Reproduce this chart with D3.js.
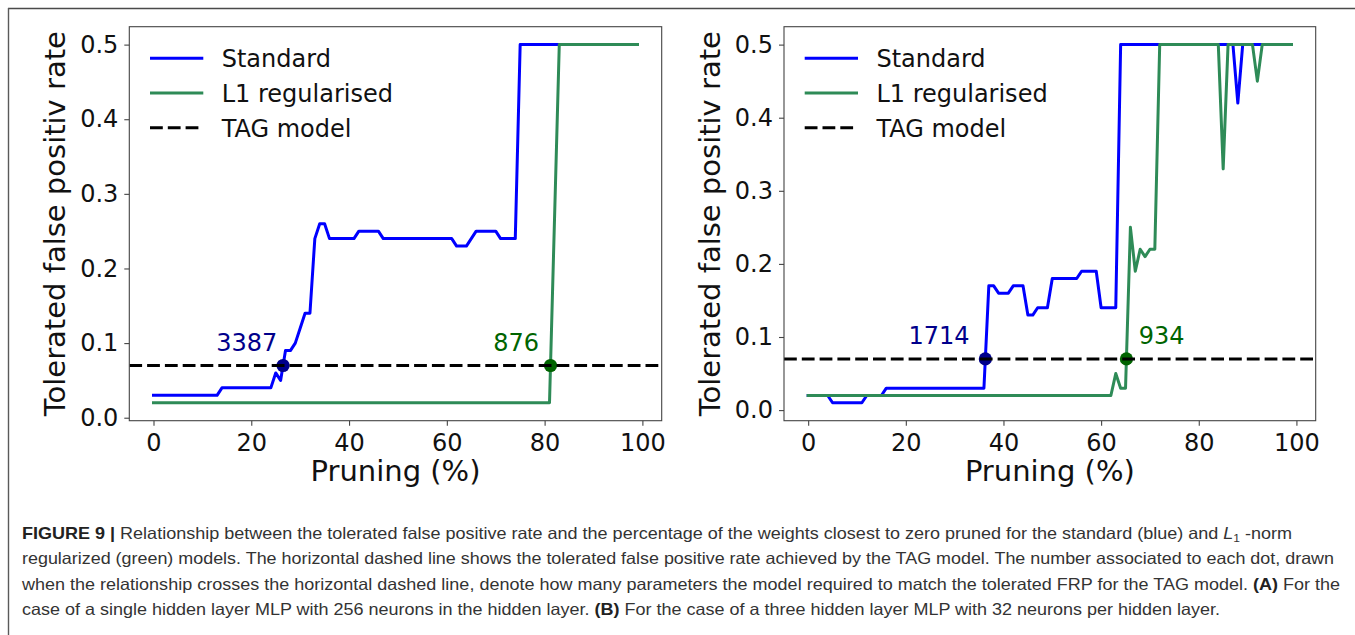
<!DOCTYPE html>
<html>
<head>
<meta charset="utf-8">
<script src="https://cdn.jsdelivr.net/npm/d3@7"></script>
<style>
  html, body { margin: 0; padding: 0; background: #fff; }
  svg { display: block; }
</style>
</head>
<body>
<svg id="fig" width="1355" height="635"></svg>
<script>
// ---- data -------------------------------------------------------------
// Pruning percentage shared by all series
const pruning = [
  0, 1, 2, 3, 4, 5, 6, 7, 8, 9,
  10, 11, 12, 13, 14, 15, 16, 17, 18, 19,
  20, 21, 22, 23, 24, 25, 26, 27, 28, 29,
  30, 31, 32, 33, 34, 35, 36, 37, 38, 39,
  40, 41, 42, 43, 44, 45, 46, 47, 48, 49,
  50, 51, 52, 53, 54, 55, 56, 57, 58, 59,
  60, 61, 62, 63, 64, 65, 66, 67, 68, 69,
  70, 71, 72, 73, 74, 75, 76, 77, 78, 79,
  80, 81, 82, 83, 84, 85, 86, 87, 88, 89,
  90, 91, 92, 93, 94, 95, 96, 97, 98, 99
];

// (A) single hidden layer MLP, 256 neurons
const standardA = [
  0.03, 0.03, 0.03, 0.03, 0.03, 0.03, 0.03, 0.03, 0.03, 0.03,
  0.03, 0.03, 0.03, 0.03, 0.04, 0.04, 0.04, 0.04, 0.04, 0.04,
  0.04, 0.04, 0.04, 0.04, 0.04, 0.06, 0.05, 0.09, 0.09, 0.10,
  0.12, 0.14, 0.14, 0.24, 0.26, 0.26, 0.24, 0.24, 0.24, 0.24,
  0.24, 0.24, 0.25, 0.25, 0.25, 0.25, 0.25, 0.24, 0.24, 0.24,
  0.24, 0.24, 0.24, 0.24, 0.24, 0.24, 0.24, 0.24, 0.24, 0.24,
  0.24, 0.24, 0.23, 0.23, 0.23, 0.24, 0.25, 0.25, 0.25, 0.25,
  0.25, 0.24, 0.24, 0.24, 0.24, 0.50, 0.50, 0.50, 0.50, 0.50,
  0.50, 0.50, 0.50, 0.50, 0.50, 0.50, 0.50, 0.50, 0.50, 0.50,
  0.50, 0.50, 0.50, 0.50, 0.50, 0.50, 0.50, 0.50, 0.50, 0.50
];
const l1A = [
  0.02, 0.02, 0.02, 0.02, 0.02, 0.02, 0.02, 0.02, 0.02, 0.02,
  0.02, 0.02, 0.02, 0.02, 0.02, 0.02, 0.02, 0.02, 0.02, 0.02,
  0.02, 0.02, 0.02, 0.02, 0.02, 0.02, 0.02, 0.02, 0.02, 0.02,
  0.02, 0.02, 0.02, 0.02, 0.02, 0.02, 0.02, 0.02, 0.02, 0.02,
  0.02, 0.02, 0.02, 0.02, 0.02, 0.02, 0.02, 0.02, 0.02, 0.02,
  0.02, 0.02, 0.02, 0.02, 0.02, 0.02, 0.02, 0.02, 0.02, 0.02,
  0.02, 0.02, 0.02, 0.02, 0.02, 0.02, 0.02, 0.02, 0.02, 0.02,
  0.02, 0.02, 0.02, 0.02, 0.02, 0.02, 0.02, 0.02, 0.02, 0.02,
  0.02, 0.02, 0.26, 0.50, 0.50, 0.50, 0.50, 0.50, 0.50, 0.50,
  0.50, 0.50, 0.50, 0.50, 0.50, 0.50, 0.50, 0.50, 0.50, 0.50
];

// (B) three hidden layer MLP, 32 neurons per layer
const standardB = [
  0.02, 0.02, 0.02, 0.02, 0.02, 0.01, 0.01, 0.01, 0.01, 0.01,
  0.01, 0.01, 0.02, 0.02, 0.02, 0.02, 0.03, 0.03, 0.03, 0.03,
  0.03, 0.03, 0.03, 0.03, 0.03, 0.03, 0.03, 0.03, 0.03, 0.03,
  0.03, 0.03, 0.03, 0.03, 0.03, 0.03, 0.03, 0.17, 0.17, 0.16,
  0.16, 0.16, 0.17, 0.17, 0.17, 0.13, 0.13, 0.14, 0.14, 0.14,
  0.18, 0.18, 0.18, 0.18, 0.18, 0.18, 0.19, 0.19, 0.19, 0.19,
  0.14, 0.14, 0.14, 0.14, 0.50, 0.50, 0.50, 0.50, 0.50, 0.50,
  0.50, 0.50, 0.50, 0.50, 0.50, 0.50, 0.50, 0.50, 0.50, 0.50,
  0.50, 0.50, 0.50, 0.50, 0.50, 0.50, 0.50, 0.50, 0.42, 0.50,
  0.50, 0.50, 0.50, 0.50, 0.50, 0.50, 0.50, 0.50, 0.50, 0.50
];
const l1B = [
  0.02, 0.02, 0.02, 0.02, 0.02, 0.02, 0.02, 0.02, 0.02, 0.02,
  0.02, 0.02, 0.02, 0.02, 0.02, 0.02, 0.02, 0.02, 0.02, 0.02,
  0.02, 0.02, 0.02, 0.02, 0.02, 0.02, 0.02, 0.02, 0.02, 0.02,
  0.02, 0.02, 0.02, 0.02, 0.02, 0.02, 0.02, 0.02, 0.02, 0.02,
  0.02, 0.02, 0.02, 0.02, 0.02, 0.02, 0.02, 0.02, 0.02, 0.02,
  0.02, 0.02, 0.02, 0.02, 0.02, 0.02, 0.02, 0.02, 0.02, 0.02,
  0.02, 0.02, 0.02, 0.05, 0.03, 0.03, 0.25, 0.19, 0.22, 0.21,
  0.22, 0.22, 0.50, 0.50, 0.50, 0.50, 0.50, 0.50, 0.50, 0.50,
  0.50, 0.50, 0.50, 0.50, 0.50, 0.33, 0.50, 0.50, 0.50, 0.50,
  0.50, 0.50, 0.45, 0.50, 0.50, 0.50, 0.50, 0.50, 0.50, 0.50
];

// Tolerated false positive rate reached by the TAG model
const tagRate = 0.07;
// Parameters needed to reach the TAG rate [standard, L1]
const paramsA = [3387, 876];
const paramsB = [1714, 934];

const xTicks = [0, 20, 40, 60, 80, 100];
const yTicks = [0.0, 0.1, 0.2, 0.3, 0.4, 0.5];
const legendLabels = ["Standard", "L1 regularised", "TAG model"];
const xLabel = "Pruning (%)";
const yLabel = "Tolerated false positiv rate";

// ---- styling ----------------------------------------------------------
const FONT = "'DejaVu Sans', sans-serif";
const C_STD = "#0000ff";
const C_L1 = "#2e8b57";
const C_STD_DOT = "#00008b";
const C_L1_DOT = "#006400";
const AXIS_GREY = "#444";
const DASH = "12.8,5";

const svg = d3.select("#fig");

// page frame (top rule and left rule)
svg.append("line").attr("x1", 8).attr("x2", 1355).attr("y1", 8.5).attr("y2", 8.5)
  .attr("stroke", "#4a4a4a").attr("stroke-width", 1.6);
svg.append("line").attr("x1", 8.5).attr("x2", 8.5).attr("y1", 8).attr("y2", 635)
  .attr("stroke", "#5a5a5a").attr("stroke-width", 1.4);

// crossing of a series with the TAG level (linear interpolation)
function crossing(vals) {
  for (let i = 1; i < vals.length; i++) {
    if (vals[i - 1] < tagRate && vals[i] >= tagRate) {
      const t = (tagRate - vals[i - 1]) / (vals[i] - vals[i - 1]);
      return pruning[i - 1] + t * (pruning[i] - pruning[i - 1]);
    }
  }
  return null;
}

// matplotlib-like 5% data margins
function padded(extent) {
  const m = (extent[1] - extent[0]) * 0.05;
  return [extent[0] - m, extent[1] + m];
}

function drawPanel(cfg) {
  const { left, right, top, bottom, std, l1, params, labelPlacement } = cfg;
  const g = svg.append("g");

  const x = d3.scaleLinear().domain(padded(d3.extent(pruning))).range([left, right]);
  const y = d3.scaleLinear()
    .domain(padded([d3.min([...std, ...l1]), d3.max([...std, ...l1])]))
    .range([bottom, top]);

  // axes
  const xAxis = d3.axisBottom(x).tickValues(xTicks).tickFormat(d3.format("d"))
    .tickSize(5).tickPadding(8);
  const yAxis = d3.axisLeft(y).tickValues(yTicks).tickFormat(d3.format(".1f"))
    .tickSize(5).tickPadding(6);

  const gx = g.append("g").attr("transform", `translate(0,${bottom})`).call(xAxis);
  const gy = g.append("g").attr("transform", `translate(${left},0)`).call(yAxis);
  [gx, gy].forEach(a => {
    a.select(".domain").remove();
    a.selectAll(".tick line").attr("stroke", AXIS_GREY).attr("stroke-width", 1.1);
    a.selectAll(".tick text").attr("fill", "#111")
      .style("font-family", FONT).style("font-size", "24px");
  });

  // clip for plot content
  const clipId = "clip" + Math.round(left);
  svg.append("clipPath").attr("id", clipId)
    .append("rect").attr("x", left).attr("y", top)
    .attr("width", right - left).attr("height", bottom - top);
  const plot = g.append("g").attr("clip-path", `url(#${clipId})`);

  const line = d3.line().x((d, i) => x(pruning[i])).y(d => y(d));

  plot.append("path").datum(std).attr("d", line)
    .attr("fill", "none").attr("stroke", C_STD).attr("stroke-width", 3)
    .attr("stroke-linejoin", "round").attr("stroke-linecap", "square");
  plot.append("path").datum(l1).attr("d", line)
    .attr("fill", "none").attr("stroke", C_L1).attr("stroke-width", 3)
    .attr("stroke-linejoin", "round").attr("stroke-linecap", "square");

  // crossing dots
  const crossings = [
    { xv: crossing(std), color: C_STD_DOT, n: params[0], place: labelPlacement[0] },
    { xv: crossing(l1), color: C_L1_DOT, n: params[1], place: labelPlacement[1] }
  ];
  plot.selectAll("circle.cross").data(crossings).enter().append("circle")
    .attr("class", "cross")
    .attr("cx", d => x(d.xv)).attr("cy", y(tagRate)).attr("r", 6.6)
    .attr("fill", d => d.color);

  // TAG model level
  plot.append("line")
    .attr("x1", left).attr("x2", right)
    .attr("y1", y(tagRate)).attr("y2", y(tagRate))
    .attr("stroke", "#000").attr("stroke-width", 3).attr("stroke-dasharray", DASH);

  // parameter count annotations
  g.selectAll("text.count").data(crossings).enter().append("text")
    .attr("class", "count")
    .attr("x", d => x(d.xv) + d.place.dx)
    .attr("y", y(tagRate + 0.02))
    .attr("text-anchor", d => d.place.anchor)
    .attr("fill", d => d.color)
    .style("font-family", FONT).style("font-size", "24px")
    .text(d => d.n);

  // frame
  g.append("rect").attr("x", left).attr("y", top)
    .attr("width", right - left).attr("height", bottom - top)
    .attr("fill", "none").attr("stroke", AXIS_GREY).attr("stroke-width", 1.1);

  // axis titles
  g.append("text")
    .attr("x", (left + right) / 2).attr("y", 481)
    .attr("text-anchor", "middle").attr("fill", "#111")
    .style("font-family", FONT).style("font-size", "29px")
    .text(xLabel);
  g.append("text")
    .attr("transform", `translate(${left - 64.5},${(top + bottom) / 2}) rotate(-90)`)
    .attr("text-anchor", "middle").attr("fill", "#111")
    .style("font-family", FONT).style("font-size", "29px")
    .text(yLabel);

  // legend
  const legendStyles = [
    { color: C_STD, dash: null },
    { color: C_L1, dash: null },
    { color: "#000", dash: DASH }
  ];
  const lg = g.append("g");
  legendLabels.forEach((lab, i) => {
    const ry = top + 31.6 + i * 34.7;
    lg.append("line")
      .attr("x1", left + 20.7).attr("x2", left + 74)
      .attr("y1", ry).attr("y2", ry)
      .attr("stroke", legendStyles[i].color).attr("stroke-width", 3)
      .attr("stroke-dasharray", legendStyles[i].dash);
    lg.append("text")
      .attr("x", left + 92.4).attr("y", ry + 8.8)
      .attr("fill", "#111")
      .style("font-family", FONT).style("font-size", "24px")
      .text(lab);
  });
}

drawPanel({
  left: 129.3, right: 661.7, top: 26.7, bottom: 420.7,
  std: standardA, l1: l1A, params: paramsA,
  labelPlacement: [{ dx: -5.8, anchor: "end" }, { dx: -11.5, anchor: "end" }]
});
drawPanel({
  left: 784, right: 1315.7, top: 26.7, bottom: 420.7,
  std: standardB, l1: l1B, params: paramsB,
  labelPlacement: [{ dx: -15.8, anchor: "end" }, { dx: 12.4, anchor: "start" }]
});

// ---- caption ------------------------------------------------------------
const captionLines = [
  { len: 1292, parts: [
    { t: "FIGURE 9 | ", b: true },
    { t: "Relationship between the tolerated false positive rate and the percentage of the weights closest to zero pruned for the standard (blue) and " },
    { t: "L", i: true },
    { t: "1", sub: true },
    { t: " -norm", up: true }
  ]},
  { len: 1334, parts: [
    { t: "regularized (green) models. The horizontal dashed line shows the tolerated false positive rate achieved by the TAG model. The number associated to each dot, drawn" }
  ]},
  { len: 1340, parts: [
    { t: "when the relationship crosses the horizontal dashed line, denote how many parameters the model required to match the tolerated FRP for the TAG model. " },
    { t: "(A)", b: true },
    { t: " For the" }
  ]},
  { len: 1220, parts: [
    { t: "case of a single hidden layer MLP with 256 neurons in the hidden layer. " },
    { t: "(B)", b: true },
    { t: " For the case of a three hidden layer MLP with 32 neurons per hidden layer." }
  ]}
];
const capG = svg.append("g");
captionLines.forEach((ln, k) => {
  const txt = capG.append("text")
    .attr("x", 22).attr("y", 539 + k * 25.4)
    .attr("textLength", ln.len - 22).attr("lengthAdjust", "spacingAndGlyphs")
    .attr("fill", "#333")
    .style("font-family", "'Liberation Sans', Arial, sans-serif")
    .style("font-size", "16.5px");
  ln.parts.forEach(p => {
    const ts = txt.append("tspan").text(p.t);
    if (p.b) ts.style("font-weight", "bold").attr("fill", "#222");
    if (p.i) ts.style("font-style", "italic");
    if (p.sub) ts.attr("dy", 3).style("font-size", "11px");
    if (p.up) ts.attr("dy", -3);
  });
});
</script>
</body>
</html>
